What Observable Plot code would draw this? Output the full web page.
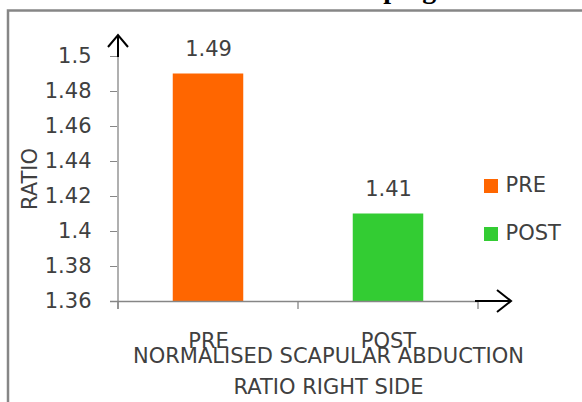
<!DOCTYPE html>
<html>
<head>
<meta charset="utf-8">
<script src="https://cdn.jsdelivr.net/npm/d3@7"></script>
<script src="https://cdn.jsdelivr.net/npm/@observablehq/plot@0.6"></script>
<style>
  html, body { margin: 0; padding: 0; background: #fff; overflow: hidden; }
  #chart { position: relative; width: 582px; height: 402px; }
</style>
</head>
<body>
<div id="chart"></div>
<script>
// ---- data ----
const categories = ["PRE", "POST"];
const values = [1.49, 1.41];
const colors = ["#FF6600", "#33CC33"];
const yTicks = [1.36, 1.38, 1.40, 1.42, 1.44, 1.46, 1.48, 1.5];
const yTickLabels = ["1.36", "1.38", "1.4", "1.42", "1.44", "1.46", "1.48", "1.5"];
const valueLabels = ["1.49", "1.41"];
const yLabel = "RATIO";
const xTitle = "NORMALISED SCAPULAR ABDUCTION\nRATIO RIGHT SIDE";
const chartTitle = "The Effect of Kinesio Taping on Normalised Scapular Abduction Ratio";

const data = categories.map((c, i) => ({cat: c, value: values[i], label: valueLabels[i]}));

const FONT = "DejaVu Sans";
const TXT = "#404040";
const GRAY = "#868686";

const plot = Plot.plot({
  width: 582,
  height: 402,
  marginLeft: 117,
  marginRight: 104,
  marginTop: 56,
  marginBottom: 101,
  style: {fontFamily: FONT, fontSize: "21px", color: TXT, background: "transparent", overflow: "visible"},
  x: {type: "band", domain: categories, padding: 0, axis: null},
  y: {domain: [1.36, 1.5], axis: null},
  color: {domain: categories, range: colors},
  marks: [
    Plot.barY(data, {x: "cat", y1: 1.36, y2: "value", fill: "cat", insetLeft: 54.75, insetRight: 54.75}),
    Plot.ruleY([1.36], {stroke: GRAY, strokeWidth: 1.3, insetLeft: -7}),
    Plot.axisY({ticks: yTicks, tickSize: 7, tickPadding: 19, tickFormat: (d) => yTickLabels[yTicks.indexOf(d)],
      stroke: GRAY, color: TXT, fontSize: 21, label: null}),
    Plot.text([yLabel], {frameAnchor: "left", textAnchor: "middle", lineAnchor: "middle", dx: -87, dy: 0, rotate: -90, fill: TXT, fontSize: 21}),
    Plot.text(data, {x: "cat", y: "value", text: "label", dy: -25, fill: TXT, fontSize: 21}),
    Plot.text(data, {x: "cat", frameAnchor: "bottom", lineAnchor: "middle", text: "cat", dy: 40, fill: TXT, fontSize: 21}),
    Plot.text([xTitle], {frameAnchor: "bottom", lineAnchor: "middle", dx: 30.5, dy: 67, lineHeight: 1.476, fill: TXT, fontSize: 21}),
    ...categories.flatMap((c, i) => [
      Plot.dot([c], {frameAnchor: "top-right", symbol: "square", r: 7.9, fill: colors[i], stroke: null, dx: 12.5, dy: 129.5 + i * 48}),
      Plot.text([c], {frameAnchor: "top-right", textAnchor: "start", lineAnchor: "middle", dx: 27, dy: 129 + i * 48, fill: TXT, fontSize: 21})
    ])
  ]
});

document.getElementById("chart").appendChild(plot);

// ---- decorations drawn from the plot's own scales ----
const xs = plot.scale("x"), ys = plot.scale("y");
const svg = d3.select(plot);
const x0 = xs.apply(categories[0]);
const xEnd = xs.apply(categories[categories.length - 1]) + xs.bandwidth;
const yBase = ys.apply(1.36), yTop = ys.apply(1.5);

// y axis line
svg.append("line").attr("x1", x0).attr("x2", x0).attr("y1", yTop).attr("y2", yBase + 8)
  .attr("stroke", GRAY).attr("stroke-width", 1.3);
// x boundary ticks
const bounds = categories.map(c => xs.apply(c)).concat([xEnd]);
svg.selectAll("line.xb").data(bounds).join("line").attr("class", "xb")
  .attr("x1", d => d).attr("x2", d => d).attr("y1", yBase).attr("y2", yBase + 8)
  .attr("stroke", GRAY).attr("stroke-width", 1.3);
// y arrow
const ya = svg.append("g").attr("stroke", "#000").attr("stroke-width", 2).attr("fill", "none");
ya.append("line").attr("x1", x0).attr("x2", x0).attr("y1", yTop + 1).attr("y2", yTop - 21);
ya.append("polyline").attr("points", `${x0 - 10},${yTop - 9} ${x0},${yTop - 21} ${x0 + 10},${yTop - 9}`);
// x arrow
const xa = svg.append("g").attr("stroke", "#000").attr("stroke-width", 2).attr("fill", "none");
xa.append("line").attr("x1", xEnd - 3).attr("x2", xEnd + 33).attr("y1", yBase).attr("y2", yBase);
xa.append("polyline").attr("points", `${xEnd + 19},${yBase - 11} ${xEnd + 33},${yBase} ${xEnd + 19},${yBase + 11}`);
// outer frame (cropped)
svg.append("rect").attr("x", 8).attr("y", 10.5).attr("width", 700).attr("height", 500)
  .attr("fill", "none").attr("stroke", GRAY).attr("stroke-width", 2.5);
// cropped title
svg.append("text").attr("x", 94).attr("y", -2).attr("text-anchor", "start").attr("font-family", "Liberation Serif")
  .attr("font-weight", "bold").attr("font-size", 28).attr("fill", "#000").text(chartTitle);
</script>
</body>
</html>
